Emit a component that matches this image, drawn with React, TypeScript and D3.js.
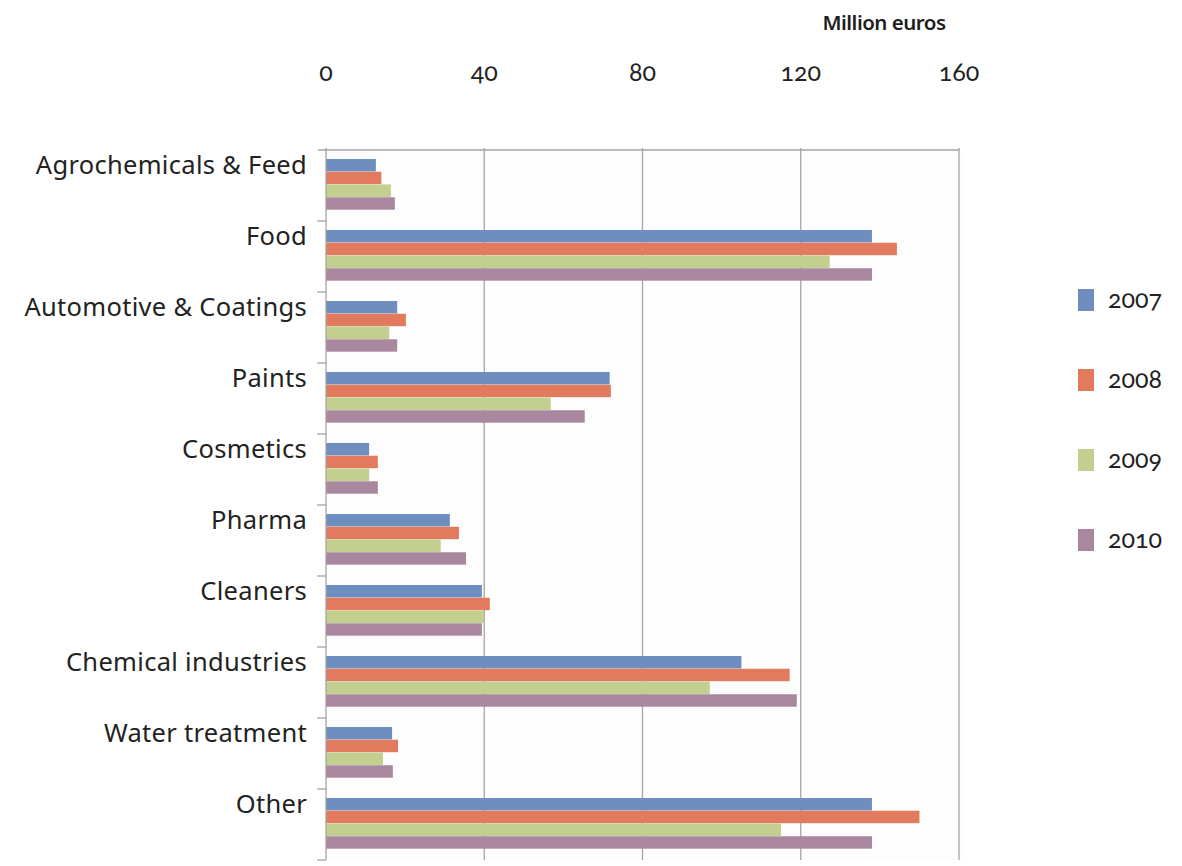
import React from "react";
import * as d3 from "d3";

const categories = [
  "Agrochemicals & Feed",
  "Food",
  "Automotive & Coatings",
  "Paints",
  "Cosmetics",
  "Pharma",
  "Cleaners",
  "Chemical industries",
  "Water treatment",
  "Other",
];

const years = ["2007", "2008", "2009", "2010"];

const values2007 = [12.6, 138, 18, 71.7, 10.9, 31.3, 39.4, 105, 16.7, 138];
const values2008 = [14, 144.3, 20.2, 72, 13.1, 33.6, 41.4, 117.2, 18.2, 150];
const values2009 = [16.4, 127.3, 16, 56.8, 10.9, 29, 39.9, 97, 14.4, 115];
const values2010 = [17.4, 138, 18, 65.4, 13.1, 35.4, 39.4, 119, 16.9, 138];

const seriesValues = [values2007, values2008, values2009, values2010];
const colors = ["#6e8ec0", "#e27a5d", "#c2cf8e", "#a8879f"];

const xTicks = [0, 40, 80, 120, 160];

const W = 1182;
const H = 866;
const left = 326;
const top = 150;
const bottom = 860;

export default function App() {
  const x = d3.scaleLinear().domain([0, 160]).range([left, 959]);
  const y = d3.scaleBand<string>().domain(categories).range([top, bottom]);
  const step = y.step();
  const inner = d3
    .scaleBand<string>()
    .domain(years)
    .range([9, 60])
    .paddingInner(0);

  const font = "'Noto Sans', 'Open Sans', sans-serif";
  const numFont = "Lato, 'Noto Sans', sans-serif";

  return (
    <svg
      width={W}
      height={H}
      viewBox={`0 0 ${W} ${H}`}
      style={{ position: "absolute", left: 0, top: 0, background: "#fff" }}
    >
      <rect x={left} y={top} width={640} height={bottom - top} fill="#fdfdfd" />
      {/* axis title */}
      <text
        x={884}
        y={30}
        textAnchor="middle"
        fontFamily={font}
        fontWeight={600}
        fontSize={20.5}
        letterSpacing={-0.5}
        fill="#1e1e1e"
      >
        Million euros
      </text>

      {/* top tick labels */}
      {xTicks.map((t) => (
        <text
          key={t}
          x={x(t)}
          y={81}
          textAnchor="middle"
          fontFamily={numFont}
          fontSize={25}
          fill="#222"
          style={{ fontVariantNumeric: "oldstyle-nums", fontFeatureSettings: "'onum'" }}
        >
          {t}
        </text>
      ))}

      {/* vertical gridlines */}
      {xTicks.slice(1).map((t) => (
        <line
          key={t}
          x1={x(t)}
          x2={x(t)}
          y1={top - 2}
          y2={bottom}
          stroke="#a9a3a3"
          strokeWidth={1.3}
        />
      ))}

      {/* top rule */}
      <line x1={left - 8} x2={x(160)} y1={top} y2={top} stroke="#a9a3a3" strokeWidth={1.5} />

      {/* bars */}
      {categories.map((c, i) => (
        <g key={c} transform={`translate(0,${y(c)})`}>
          {years.map((yr, s) => (
            <rect
              key={yr}
              x={x(0)}
              y={inner(yr)}
              width={x(seriesValues[s][i]) - x(0)}
              height={inner.bandwidth() - 0.3}
              fill={colors[s]}
            />
          ))}
        </g>
      ))}

      {/* category axis */}
      <line x1={left} x2={left} y1={top - 2} y2={bottom} stroke="#a9a3a3" strokeWidth={1.3} />
      {categories.map((c) => (
        <line
          key={c}
          x1={left - 9}
          x2={left}
          y1={(y(c) as number) + step}
          y2={(y(c) as number) + step}
          stroke="#a9a3a3"
          strokeWidth={1.3}
        />
      ))}
      {categories.map((c) => (
        <text
          key={c}
          x={307}
          y={(y(c) as number) + 24}
          textAnchor="end"
          fontFamily={font}
          fontSize={25.5}
          letterSpacing={0.3}
          fill="#222"
        >
          {c}
        </text>
      ))}

      {/* legend */}
      {years.map((yr, s) => (
        <g key={yr} transform={`translate(1078,${289 + s * 80})`}>
          <rect x={0} y={0} width={16} height={22} fill={colors[s]} />
          <text
            x={30}
            y={19}
            fontFamily={numFont}
            fontSize={25}
            fill="#222"
            style={{ fontVariantNumeric: "oldstyle-nums", fontFeatureSettings: "'onum'" }}
          >
            {yr}
          </text>
        </g>
      ))}
    </svg>
  );
}
